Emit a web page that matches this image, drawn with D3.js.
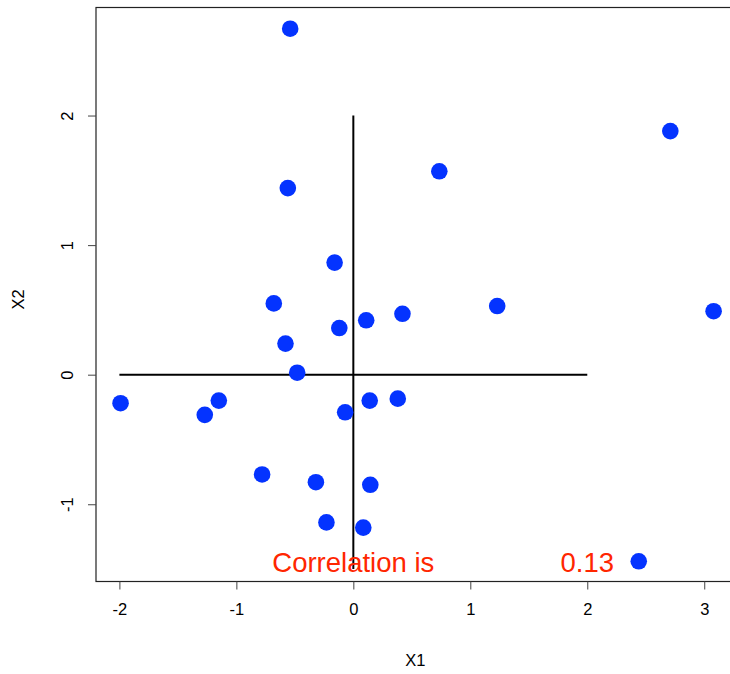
<!DOCTYPE html>
<html>
<head>
<meta charset="utf-8">
<script src="https://cdn.jsdelivr.net/npm/d3@7"></script>
<style>
	html, body { margin: 0; padding: 0; background: #fff; }
	svg { display: block; font-family: "Liberation Sans", Arial, sans-serif; }
</style>
</head>
<body>
<svg id="chart"></svg>
<script>
// points
const x1 = [-0.54, 2.71, 0.735, -0.56, -0.16, -0.68, 1.23, 3.08, 0.42, 0.11, -0.12, -0.58, -0.48,
	-1.99, -1.15, -1.27, 0.14, 0.38, -0.07, -0.78, -0.32, 0.145, -0.23, 0.085, 2.44];
const x2 = [2.67, 1.88, 1.57, 1.44, 0.865, 0.55, 0.53, 0.49, 0.47, 0.42, 0.36, 0.24, 0.015,
	-0.22, -0.2, -0.31, -0.2, -0.185, -0.29, -0.77, -0.83, -0.85, -1.14, -1.18, -1.44];
const xTicks = [-2, -1, 0, 1, 2, 3];
const yTicks = [-1, 0, 1, 2];
const corrText = ['Correlation is', '0.13'];

const config = {
	width: 730,
	height: 674,
	left: 96,
	right: 737,
	top: 7.5,
	bottom: 581.5,
	point: '#0433ff',
	text: '#ff2600'
};

window.addEventListener('load', function() {
	const svg = d3.select('#chart')
		.attr('width', config.width)
		.attr('height', config.height);

	const x = d3.scaleLinear().domain([-2.2, 3.28]).range([config.left, config.right]);
	const y = d3.scaleLinear().domain([-1.6, 2.83]).range([582, 8]);

	// box
	svg.append('rect')
		.attr('x', config.left)
		.attr('y', config.top)
		.attr('width', config.right - config.left)
		.attr('height', config.bottom - config.top)
		.attr('fill', 'none')
		.attr('stroke', '#222')
		.attr('stroke-width', 1.2);

	const xAxis = svg.append('g')
		.attr('transform', `translate(0,${config.bottom})`)
		.call(d3.axisBottom(x).tickValues(xTicks).tickSize(8).tickPadding(14).tickFormat(d => String(d)));
	xAxis.select('.domain').remove();
	xAxis.selectAll('text').attr('font-size', 16.5).attr('fill', '#000').attr('font-family', 'Liberation Sans, Arial, sans-serif');
	xAxis.selectAll('line').attr('stroke', '#444');

	const yAxis = svg.append('g')
		.attr('transform', `translate(${config.left},0)`)
		.call(d3.axisLeft(y).tickValues(yTicks).tickSize(8).tickFormat(d => String(d)));
	yAxis.select('.domain').remove();
	yAxis.selectAll('line').attr('stroke', '#444');
	yAxis.selectAll('text')
		.attr('font-size', 16.5).attr('fill', '#000').attr('font-family', 'Liberation Sans, Arial, sans-serif')
		.attr('x', null).attr('dy', null)
		.attr('text-anchor', 'middle')
		.attr('transform', 'translate(-29,0) rotate(-90)')
		.attr('dy', '0.35em');

	// axis titles
	svg.append('text')
		.attr('x', x(0) + 62)
		.attr('y', 666)
		.attr('text-anchor', 'middle')
		.attr('font-size', 16.5)
		.text('X1');
	svg.append('text')
		.attr('transform', `translate(24,${(config.top + config.bottom) / 2 + 5}) rotate(-90)`)
		.attr('text-anchor', 'middle')
		.attr('font-size', 16.5)
		.text('X2');

	// cross lines
	svg.append('line')
		.attr('x1', x(-2)).attr('x2', x(2))
		.attr('y1', y(0)).attr('y2', y(0))
		.attr('stroke', '#000').attr('stroke-width', 2);
	svg.append('line')
		.attr('x1', x(0)).attr('x2', x(0))
		.attr('y1', y(2)).attr('y2', y(-1.5))
		.attr('stroke', '#000').attr('stroke-width', 2);

	// points
	svg.append('g')
		.selectAll('circle')
		.data(x1.map((d, i) => [d, x2[i]]))
		.enter()
		.append('circle')
		.attr('cx', d => x(d[0]))
		.attr('cy', d => y(d[1]))
		.attr('r', 8.3)
		.attr('fill', config.point);

	// correlation text
	svg.append('g')
		.selectAll('text')
		.data(corrText)
		.enter()
		.append('text')
		.attr('x', (d, i) => x(i === 0 ? 0 : 2))
		.attr('y', y(-1.45))
		.attr('dy', '0.35em')
		.attr('text-anchor', 'middle')
		.attr('font-size', 27.5)
		.attr('fill', config.text)
		.text(d => d);
});
</script>
</body>
</html>
